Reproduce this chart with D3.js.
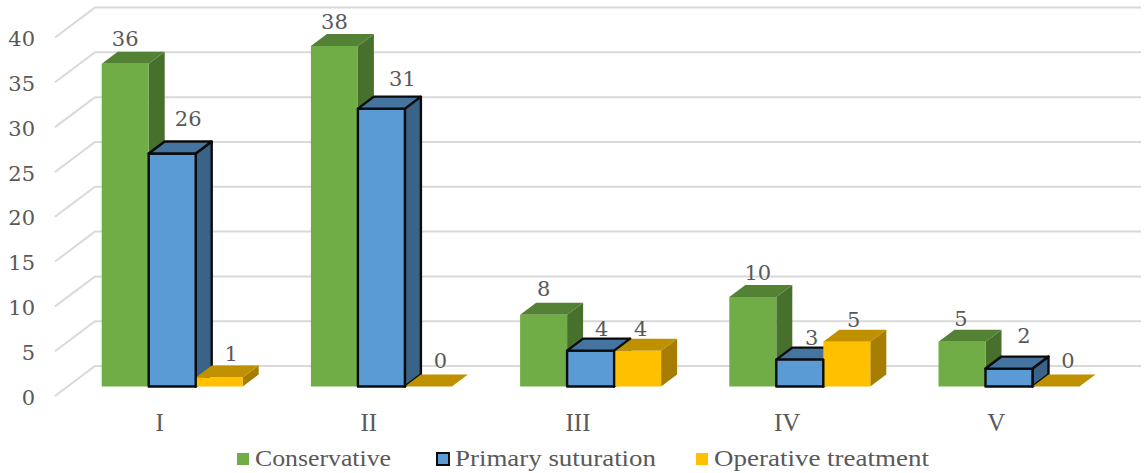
<!DOCTYPE html>
<html>
<head>
<meta charset="utf-8">
<script src="https://cdn.jsdelivr.net/npm/d3@7"></script>
<style>
  html, body { margin: 0; padding: 0; background: #fff; }
  svg { display: block; }
  text { font-family: "Liberation Serif", serif; fill: #595959; }
  .num, .num text { font-family: "DejaVu Serif", serif; }
</style>
</head>
<body>
<svg id="chart" width="1146" height="473"></svg>
<script>
// Injury grades and treatment counts
const grades = ["I", "II", "III", "IV", "V"];
const seriesNames = ["Conservative", "Primary suturation", "Operative treatment"];
const conservative = [36, 38, 8, 10, 5];
const primarySuturation = [26, 31, 4, 3, 2];
const operativeTreatment = [1, 0, 4, 5, 0];
const valueTicks = [0, 5, 10, 15, 20, 25, 30, 35, 40];

// Fill colours per series: front, top and side faces of each column
const palette = [
  { front: "#70AD47", top: "#548235", side: "#47702C" },
  { front: "#5B9BD5", top: "#44749F", side: "#3A6388" },
  { front: "#FFC000", top: "#BF9000", side: "#A67D00" }
];
const seriesValues = [conservative, primarySuturation, operativeTreatment];

// Oblique projection: the floor recedes by (40,-30); columns occupy its middle
const floorDepth = { x: 40, y: -30 };
const barInset = { x: 12.6, y: -9.5 };
const barDepth = { x: 16, y: -12 };
const groupWidth = 141;

const svg = d3.select("#chart");
const x = d3.scaleBand().domain(grades).range([55, 1101]);
const inner = d3.scaleBand().domain(d3.range(3)).range([0, groupWidth]);
const y = d3.scaleLinear().domain([0, 40]).range([396, 37.5]);

// Gridlines: a diagonal on the side wall, then a horizontal along the back wall
svg.append("g").selectAll("path").data(valueTicks).join("path")
  .attr("d", v => {
    const p = d3.path();
    p.moveTo(x.range()[0], y(v));
    p.lineTo(x.range()[0] + floorDepth.x, y(v) + floorDepth.y);
    p.lineTo(x.range()[1] + floorDepth.x, y(v) + floorDepth.y);
    return p.toString();
  })
  .attr("fill", "none")
  .attr("stroke", "#D9D9D9")
  .attr("stroke-width", 2);

// Value and category axes (labels only)
const yAxis = svg.append("g").attr("class", "num").attr("transform", "translate(55,1.5)")
  .call(d3.axisLeft(y).tickValues(valueTicks).tickSize(0).tickPadding(20));
const xAxis = svg.append("g").attr("transform", "translate(0,396)")
  .call(d3.axisBottom(x).tickSize(0).tickPadding(17));
yAxis.select(".domain").remove();
xAxis.select(".domain").remove();
yAxis.selectAll(".tick text").attr("font-size", 21).attr("fill", "#595959");
xAxis.selectAll(".tick text").attr("font-size", 25).attr("fill", "#595959");
yAxis.attr("font-family", null);
xAxis.attr("font-family", null);

function polygon(points) {
  return d3.line()(points) + "Z";
}

// Corner coordinates for a column; faces are drawn separately to control overlap
function boxOf(seriesIndex, grade, value) {
  const x0 = x(grade) + (x.bandwidth() - groupWidth) / 2 + barInset.x + inner(seriesIndex);
  return {
    x0,
    x1: x0 + inner.bandwidth(),
    yBase: y(0) + barInset.y,
    yTop: y(value) + barInset.y,
    colour: palette[seriesIndex],
    outlined: seriesIndex === 1,
    solid: value > 0
  };
}

function face(group, box, fill, points) {
  group.append("path")
    .attr("fill", fill)
    .attr("stroke", box.outlined ? "#0B0B0B" : "none")
    .attr("stroke-width", box.outlined ? 2.4 : 0)
    .attr("stroke-linejoin", "round")
    .attr("d", polygon(points));
}

function sideFace(group, b) {
  if (!b.solid) return;
  const d = barDepth;
  face(group, b, b.colour.side, [[b.x1, b.yTop], [b.x1 + d.x, b.yTop + d.y], [b.x1 + d.x, b.yBase + d.y], [b.x1, b.yBase]]);
}
function frontFace(group, b) {
  if (!b.solid) return;
  face(group, b, b.colour.front, [[b.x0, b.yTop], [b.x1, b.yTop], [b.x1, b.yBase], [b.x0, b.yBase]]);
}
function topFace(group, b) {
  const d = barDepth;
  face(group, b, b.colour.top, [[b.x0, b.yTop], [b.x1, b.yTop], [b.x1 + d.x, b.yTop + d.y], [b.x0 + d.x, b.yTop + d.y]]);
}

// Each group is painted so neighbouring columns hide one another correctly:
// the yellow column covers the blue side face, and covers the blue top only when taller.
const bars = svg.append("g");
grades.forEach((grade, i) => {
  const g = bars.append("g");
  const green = boxOf(0, grade, conservative[i]);
  const blue = boxOf(1, grade, primarySuturation[i]);
  const yellow = boxOf(2, grade, operativeTreatment[i]);
  sideFace(g, green); topFace(g, green); frontFace(g, green);
  sideFace(g, blue);
  const blueIsShorter = primarySuturation[i] < operativeTreatment[i];
  if (blueIsShorter) topFace(g, blue);
  sideFace(g, yellow); topFace(g, yellow); frontFace(g, yellow);
  frontFace(g, blue);
  if (!blueIsShorter) topFace(g, blue);
});

// Hand-placed label offsets per series and grade, measured from each column's top-back centre
const labelNudge = [
  [[0, -13], [0, -12], [0, -14], [5, -12], [-1, -11]],
  [[16, -23], [21, -18], [11, -10], [12, -10], [15, -21]],
  [[12, -12], [12, -14], [3, -10], [7, -10], [12, -14]]
];
const labels = svg.append("g").attr("class", "num");
seriesValues.forEach((vals, s) => {
  vals.forEach((v, i) => {
    const grade = grades[i];
    const cx = x(grade) + (x.bandwidth() - groupWidth) / 2 + barInset.x + inner(s) + inner.bandwidth() / 2;
    const yBack = y(v) + barInset.y + barDepth.y;
    labels.append("text")
      .attr("x", cx + labelNudge[s][i][0])
      .attr("y", yBack + labelNudge[s][i][1])
      .attr("dy", "0.35em")
      .attr("text-anchor", "middle")
      .attr("font-size", 21)
      .text(v);
  });
});

// Legend row
const legendKeyX = [237, 437, 696];
const legendWidth = [136, 201, 215];
const legend = svg.append("g");
seriesNames.forEach((name, s) => {
  legend.append("rect")
    .attr("x", legendKeyX[s]).attr("y", 453)
    .attr("width", 12).attr("height", 12)
    .attr("fill", palette[s].front)
    .attr("stroke", s === 1 ? "#0B0B0B" : "none")
    .attr("stroke-width", s === 1 ? 2 : 0);
  legend.append("text")
    .attr("x", legendKeyX[s] + 18).attr("y", 458)
    .attr("dy", "0.35em")
    .attr("font-size", 24)
    .attr("textLength", legendWidth[s])
    .attr("lengthAdjust", "spacingAndGlyphs")
    .text(name);
});
</script>
</body>
</html>
